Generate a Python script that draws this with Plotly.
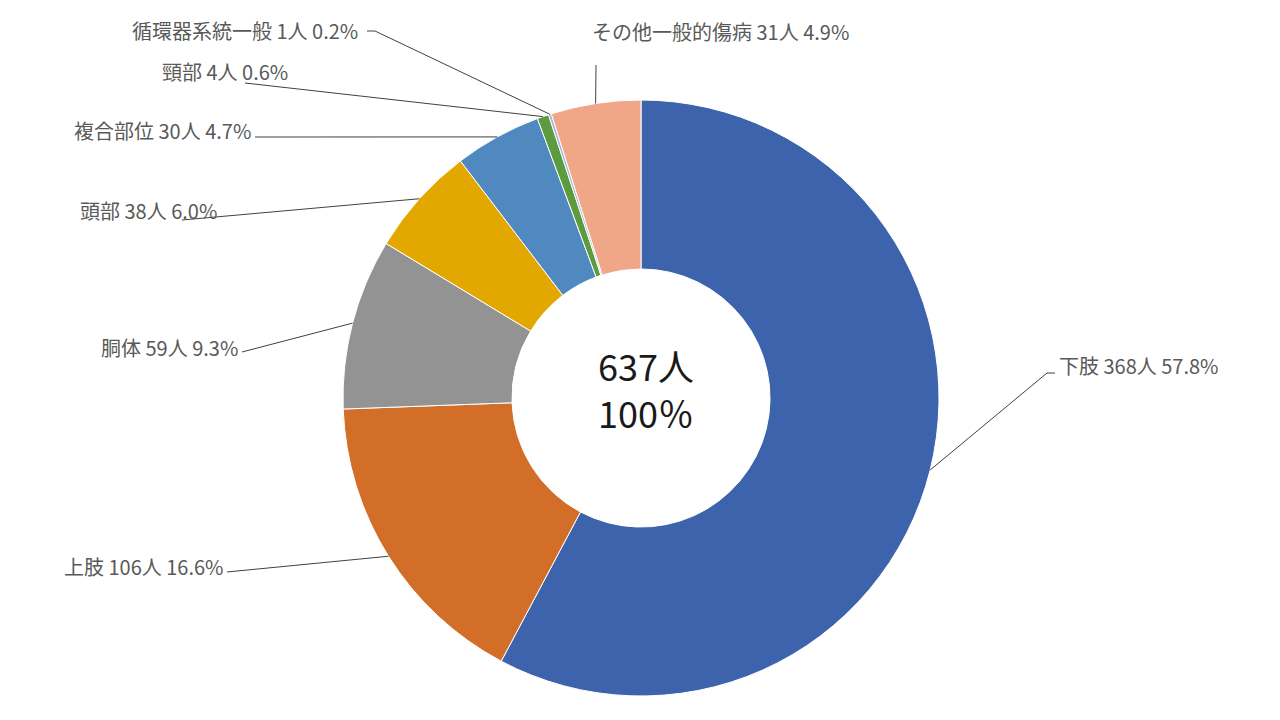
import math
import plotly.graph_objects as go

W, H = 1280, 720

# data
parts = ['下肢', '上肢', '胴体', '頭部', '複合部位', '頸部', '循環器系統一般', 'その他一般的傷病']
counts = [368, 106, 59, 38, 30, 4, 1, 31]
colors = ['#3C63AB', '#D26E28', '#939393', '#E2A800', '#4F89BF', '#5D9B3F', '#A9B4D8', '#F0A787']

total = sum(counts)

# pie placement (pixels)
cx, cy, R = 641, 398, 298
hole = 0.433

# label layout: text anchor x, y, xanchor, leader start point (pixels)
label_pos = [
    (1057, 365, 'left', [(1055, 373), (1047, 373)]),
    (226, 566, 'right', [(227, 572)]),
    (240, 347, 'right', [(242, 352)]),
    (219, 210, 'right', [(182, 220)]),
    (253, 130, 'right', [(255, 137)]),
    (290, 72, 'right', [(245, 83)]),
    (360, 31, 'right', [(367, 31), (375, 31)]),
    (720, 32, 'center', [(596, 65)]),
]


def px(x):
    return x / W


def py(y):
    return 1 - y / H


fig = go.Figure()
fig.add_trace(go.Pie(
    labels=parts, values=counts, hole=hole, sort=False, direction='clockwise',
    rotation=0, textinfo='none', hoverinfo='label+value+percent',
    marker=dict(colors=colors, line=dict(color='white', width=1)),
    domain=dict(x=[px(cx - R), px(cx + R)], y=[py(cy + R), py(cy - R)]),
    showlegend=False,
))

annotations = []
shapes = []
cum = 0
for name, n, (tx, ty, anchor, pts) in zip(parts, counts, label_pos):
    mid = (cum + n / 2) / total * 2 * math.pi
    cum += n
    ex = cx + R * math.sin(mid)
    ey = cy - R * math.cos(mid)
    path_pts = pts + [(ex, ey)]
    path = 'M ' + ' L '.join(f'{px(a):.5f},{py(b):.5f}' for a, b in path_pts)
    shapes.append(dict(type='path', xref='paper', yref='paper', path=path,
                       line=dict(color='#404040', width=1)))
    annotations.append(dict(
        x=px(tx), y=py(ty), xref='paper', yref='paper', xanchor=anchor, yanchor='middle',
        text=f'{name} {n}人 {n / total * 100:.1f}%', showarrow=False,
        font=dict(size=20, color='#595959'),
    ))

annotations.append(dict(
    x=px(cx + 5), y=py(cy - 10), xref='paper', yref='paper', xanchor='center', yanchor='middle',
    text=f'{total}人<br>100％', showarrow=False, align='left',
    font=dict(size=36, color='#1A1A1A'),
))

fig.update_layout(
    width=W, height=H, margin=dict(l=0, r=0, t=0, b=0),
    paper_bgcolor='white', plot_bgcolor='white',
    font=dict(family='Noto Sans CJK JP'),
    shapes=shapes, annotations=annotations,
)

# drop the default page margin so the figure sits at the window's corner
fig.write_html('out.html', config={'displayModeBar': False},
               post_script="document.body.style.margin='0';")
